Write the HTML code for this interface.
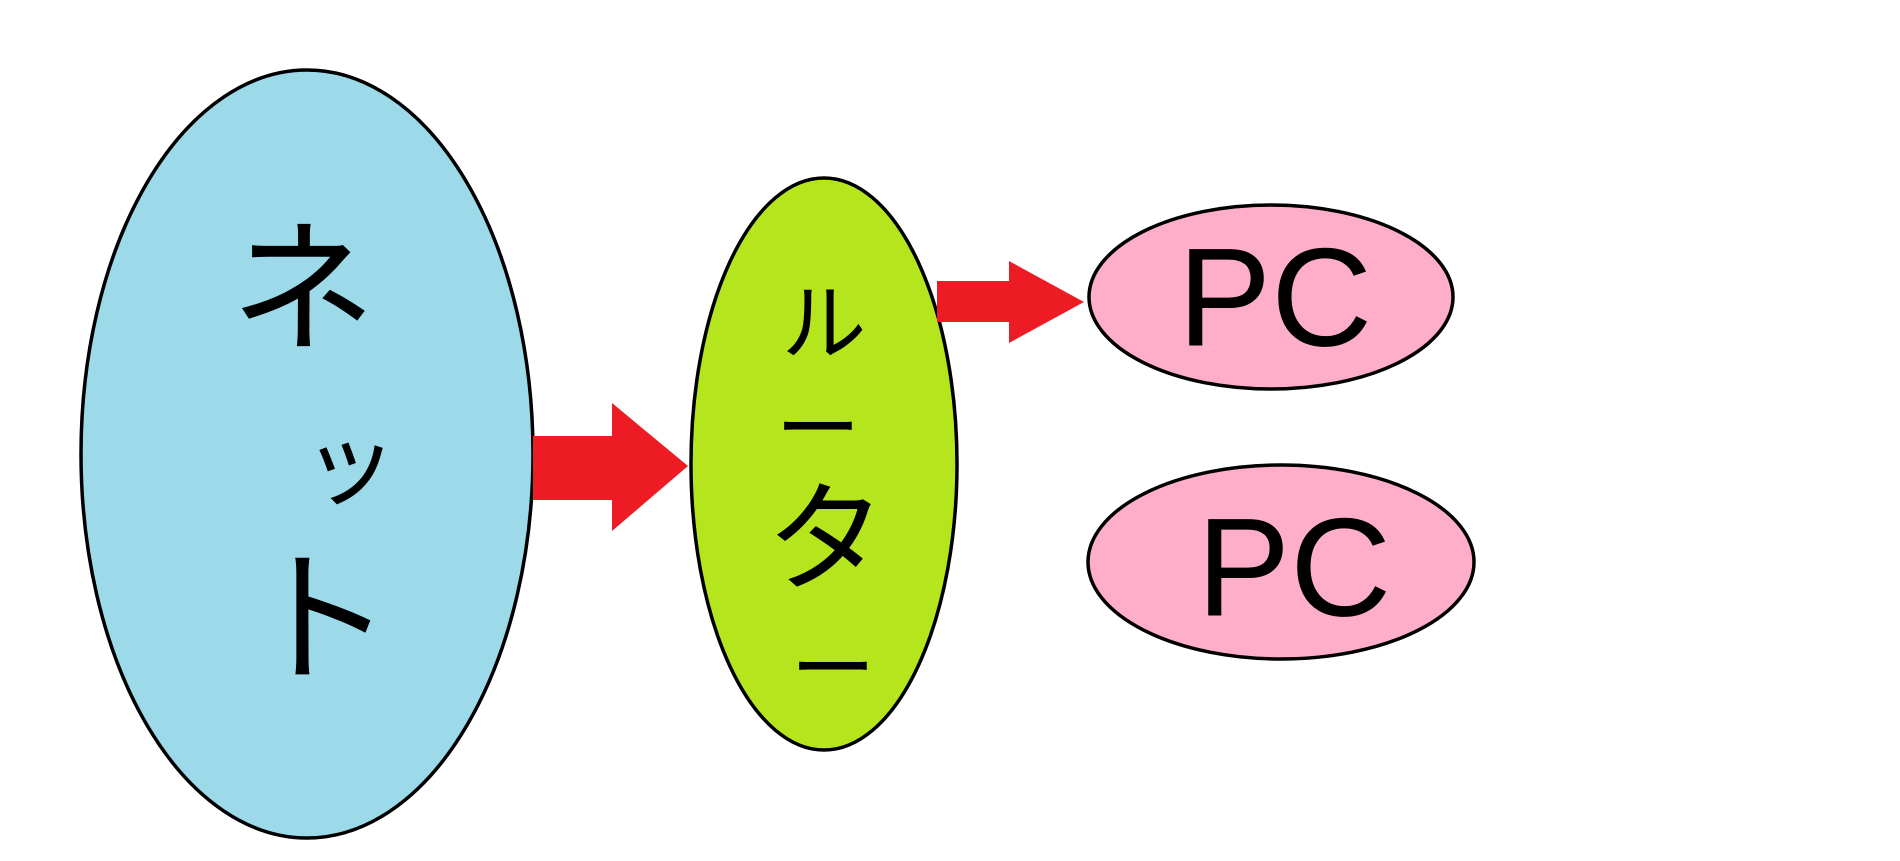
<!DOCTYPE html>
<html><head><meta charset="utf-8"><style>
html,body{margin:0;padding:0;background:#fff;width:1900px;height:861px;overflow:hidden}
svg{display:block;position:absolute;left:0;top:0}
text{font-family:"Liberation Sans","Noto Sans CJK JP",sans-serif;fill:#000;text-anchor:middle;dominant-baseline:central}
</style></head><body>
<svg width="1900" height="861">
<ellipse cx="307" cy="454" rx="226" ry="384" fill="#9cdaea" stroke="#000" stroke-width="3.5"/>
<ellipse cx="824" cy="464" rx="133" ry="286" fill="#b5e61d" stroke="#000" stroke-width="3.5"/>
<ellipse cx="1271" cy="297" rx="182" ry="92" fill="#ffaec9" stroke="#000" stroke-width="3.5"/>
<ellipse cx="1281" cy="562" rx="193" ry="97" fill="#ffaec9" stroke="#000" stroke-width="3.5"/>
<polygon points="533,436 612,436 612,403 688,466 612,531 612,500 533,500" fill="#ed1c24"/>
<polygon points="937,281 1009,281 1009,261 1084,302 1009,343 1009,322 937,322" fill="#ed1c24"/>
<text x="303" y="290" font-size="145">ネ</text>
<text x="350" y="465" font-size="95">ッ</text>
<text x="320" y="620" font-size="145">ト</text>
<text x="824" y="325" font-size="85">ル</text>
<text x="818" y="430" font-size="85">ー</text>
<text x="826" y="540" font-size="120">タ</text>
<text x="833" y="670" font-size="85">ー</text>
<text x="1275" y="297" font-size="140">PC</text>
<text x="1294" y="567" font-size="140">PC</text>
</svg>
</body></html>
